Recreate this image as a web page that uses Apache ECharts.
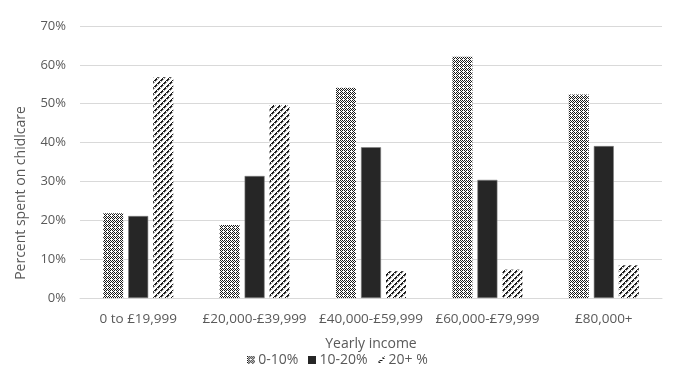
<!DOCTYPE html>
<html>
<head>
<meta charset="utf-8">
<script src="https://cdn.jsdelivr.net/npm/echarts@6/dist/echarts.min.js"></script>
<style>
  html, body { margin: 0; padding: 0; background: #fff; }
  #chart { width: 675px; height: 367px; }
</style>
</head>
<body>
<div id="chart"></div>
<script>
// Income bands and share of income spent on childcare
const categories = ['0 to £19,999', '£20,000-£39,999', '£40,000-£59,999', '£60,000-£79,999', '£80,000+'];
const seriesNames = ['0-10%', '10-20%', '20+ %'];
const low = [21.8, 18.8, 54.1, 62.1, 52.4];
const mid = [21.1, 31.4, 38.8, 30.4, 39.1];
const high = [56.8, 49.7, 6.9, 7.3, 8.4];
const yTicks = [0, 10, 20, 30, 40, 50, 60, 70];

// Fill pattern tiles drawn on small canvases
function makeTile(w, h, draw) {
  const c = document.createElement('canvas');
  c.width = w; c.height = h;
  const ctx = c.getContext('2d');
  ctx.fillStyle = '#fff';
  ctx.fillRect(0, 0, w, h);
  draw(ctx, w, h);
  return c;
}
// dense weave/checker: 1px checkerboard broken by small white gaps
function drawChecker(ctx, w, h) {
  ctx.fillStyle = '#1a1a1a';
  for (let y = 0; y < h; y++) {
    for (let x = 0; x < w; x++) {
      if ((x + y) % 2 === 0) ctx.fillRect(x, y, 1, 1);
      if (x % 4 === 1 && y % 4 === 1) ctx.fillRect(x, y, 1, 1);
    }
  }
  ctx.fillStyle = '#fff';
  for (let y = 0; y < h; y += 4) {
    for (let x = 0; x < w; x += 4) ctx.fillRect(x + 3, y + 3, 1, 1);
  }
}
// forward-slash hatching
function drawHatch(ctx, w, h) {
  for (let y = 0; y < h; y++) {
    for (let x = 0; x < w; x++) {
      const d = (x + y) % 6;
      if (d === 0 || (d === 1 && y % 3 !== 0)) {
        ctx.fillStyle = '#1a1a1a';
        ctx.fillRect(x, y, 1, 1);
      } else if (d === 2) {
        ctx.fillStyle = '#a6a6a6';
        ctx.fillRect(x, y, 1, 1);
      }
    }
  }
}
const checkerTile = makeTile(8, 8, drawChecker);
const hatchTile = makeTile(6, 6, drawHatch);

const checkerFill = { image: checkerTile, repeat: 'repeat' };
const hatchFill = { image: hatchTile, repeat: 'repeat' };

// legend swatches as small images
const checkerIcon = 'image://' + makeTile(8, 8, drawChecker).toDataURL();
const solidIcon = 'image://' + makeTile(8, 8, (ctx, w, h) => { ctx.fillStyle = '#262626'; ctx.fillRect(0, 0, w, h); }).toDataURL();
const hatchIcon = 'image://' + makeTile(8, 8, (ctx, w, h) => {
  ctx.fillStyle = '#1a1a1a';
  for (let i = 0; i < 8; i++) {
    if (i % 2 === 0) ctx.fillRect(7 - i, i, 2, 1);
  }
  ctx.fillRect(1, 5, 1, 1); ctx.fillRect(2, 4, 1, 1);
  ctx.fillRect(5, 1, 1, 1);
}).toDataURL();

const font = 'Open Sans, Liberation Sans, sans-serif';
const chart = echarts.init(document.getElementById('chart'), null, { renderer: 'canvas' });
chart.setOption({
  animation: false,
  textStyle: { fontFamily: font, color: '#595959' },
  grid: { left: 80, right: 13, top: 26, bottom: 69 },
  legend: {
    top: 353,
    left: 'center',
    padding: [0, 5, 0, 5],
    itemWidth: 8,
    itemHeight: 8,
    itemGap: 10,
    textStyle: { fontFamily: font, fontSize: 14, color: '#595959', padding: [0, 0, 0, -2] },
    data: [
      { name: seriesNames[0], icon: checkerIcon },
      { name: seriesNames[1], icon: solidIcon },
      { name: seriesNames[2], icon: hatchIcon }
    ]
  },
  xAxis: {
    type: 'category',
    data: categories,
    name: 'Yearly income',
    nameLocation: 'middle',
    nameGap: 39,
    nameTextStyle: { fontFamily: font, fontSize: 14, color: '#595959' },
    axisLine: { lineStyle: { color: '#d9d9d9', width: 1 } },
    axisTick: { show: false },
    axisLabel: { fontFamily: font, fontSize: 13.5, color: '#595959', margin: 14, interval: 0 }
  },
  yAxis: {
    type: 'value',
    min: 0,
    max: 70,
    interval: 10,
    name: 'Percent spent on chidlcare',
    nameLocation: 'middle',
    nameGap: 52,
    nameTextStyle: { fontFamily: font, fontSize: 14, color: '#595959', padding: [0, 62, 0, 0] },
    axisLine: { show: false },
    axisTick: { show: false },
    axisLabel: {
      fontFamily: font, fontSize: 13, color: '#595959', margin: 14,
      formatter: v => (yTicks.includes(v) ? v + '%' : '')
    },
    splitLine: { lineStyle: { color: '#d9d9d9', width: 1 } }
  },
  series: [
    {
      name: seriesNames[0], type: 'bar', data: low, barWidth: 20, barGap: '25%',
      itemStyle: { color: checkerFill }
    },
    {
      name: seriesNames[1], type: 'bar', data: mid, barWidth: 20, barGap: '25%',
      itemStyle: { color: '#262626', borderColor: '#7f7f7f', borderWidth: 0.6 }
    },
    {
      name: seriesNames[2], type: 'bar', data: high, barWidth: 20, barGap: '25%',
      itemStyle: { color: hatchFill }
    }
  ]
});
</script>
</body>
</html>
